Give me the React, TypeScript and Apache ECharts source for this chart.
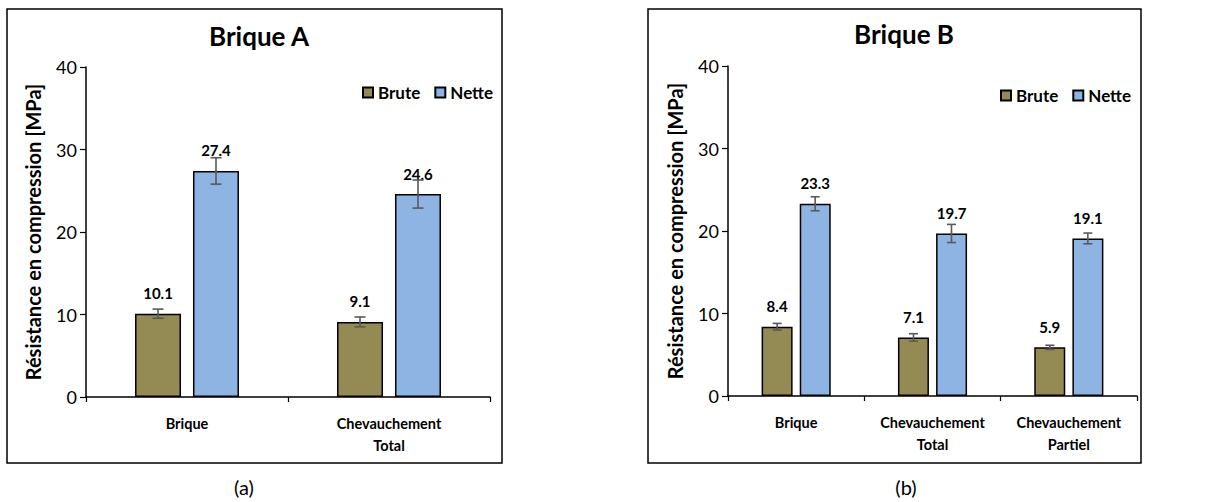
import React, { useEffect, useRef } from "react";
import * as echarts from "echarts";

const categoriesA = ["Brique", "Chevauchement\nTotal"];
const bruteA = [10.1, 9.1];
const netteA = [27.4, 24.6];
const errBruteA = [0.55, 0.6];
const errNetteA = [1.6, 1.7];

const categoriesB = ["Brique", "Chevauchement\nTotal", "Chevauchement\nPartiel"];
const bruteB = [8.4, 7.1, 5.9];
const netteB = [23.3, 19.7, 19.1];
const errBruteB = [0.4, 0.45, 0.25];
const errNetteB = [0.85, 1.1, 0.65];

const yTicks = { min: 0, max: 40, interval: 10 };
const titles = ["Brique A", "Brique B"];
const captions = ["(a)", "(b)"];
const yName = "Résistance en compression [MPa]";

const FONT = "Lato, 'Noto Sans', sans-serif";
const BROWN = "#948A54";
const BLUE = "#8DB4E2";

function errorSeries(name: string, axisIdx: number, vals: number[], errs: number[], offset: number, cap: number) {
  return {
    type: "custom",
    name,
    xAxisIndex: axisIdx,
    yAxisIndex: axisIdx,
    z: 5,
    encode: { x: 0, y: 1 },
    data: vals.map((v, i) => [i, v, errs[i]]),
    renderItem: (params: any, api: any) => {
      const i = api.value(0);
      const v = api.value(1);
      const e = api.value(2);
      const hi = api.coord([i, v + e]);
      const lo = api.coord([i, v - e]);
      const x = hi[0] + offset;
      const style = { stroke: "#595959", lineWidth: 1.6 };
      return {
        type: "group",
        children: [
          { type: "line", shape: { x1: x, y1: hi[1], x2: x, y2: lo[1] }, style },
          { type: "line", shape: { x1: x - cap / 2, y1: hi[1], x2: x + cap / 2, y2: hi[1] }, style },
          { type: "line", shape: { x1: x - cap / 2, y1: lo[1], x2: x + cap / 2, y2: lo[1] }, style },
        ],
      };
    },
  };
}

function barSeries(name: string, axisIdx: number, data: number[], color: string, width: number, gap: string) {
  return {
    type: "bar",
    name,
    xAxisIndex: axisIdx,
    yAxisIndex: axisIdx,
    data,
    barWidth: width,
    barGap: gap,
    itemStyle: { color, borderColor: "#000", borderWidth: 1.5 },
    label: {
      show: true,
      position: "top",
      distance: 13,
      color: "#000",
      fontWeight: "bold",
      fontSize: 15,
      fontFamily: FONT,
      formatter: (p: any) => p.value.toFixed(1),
    },
  };
}

function xAxis(idx: number, cats: string[]) {
  return {
    type: "category",
    gridIndex: idx,
    data: cats,
    axisLine: { lineStyle: { color: "#000", width: 1.5 } },
    axisTick: { show: true, length: 5, lineStyle: { color: "#000", width: 1.2 } },
    axisLabel: {
      interval: 0,
      hideOverlap: false,
      color: "#000",
      fontWeight: "bold",
      fontSize: 14.5,
      fontFamily: FONT,
      lineHeight: 22,
      margin: 15,
    },
  };
}

function yAxis(idx: number) {
  return {
    type: "value",
    gridIndex: idx,
    min: yTicks.min,
    max: yTicks.max,
    interval: yTicks.interval,
    name: yName,
    nameLocation: "middle",
    nameGap: 43,
    nameRotate: 90,
    nameTextStyle: { color: "#000", fontWeight: "bold", fontSize: 20, fontFamily: FONT },
    axisLine: { show: true, lineStyle: { color: "#000", width: 1.5 } },
    axisTick: { show: true, length: 6, lineStyle: { color: "#000", width: 1.2 } },
    splitLine: { show: false },
    axisLabel: { color: "#000", fontSize: 18, fontFamily: FONT, margin: 9 },
  };
}

export default function App() {
  const ref = useRef<HTMLDivElement>(null);
  useEffect(() => {
    if (!ref.current) return;
    const chart = echarts.init(ref.current, null, { renderer: "svg" });
    const legendBase = {
      data: ["Brute", "Nette"],
      icon: "rect",
      itemWidth: 10,
      itemHeight: 10,
      itemGap: 14,
      padding: 0,
      textStyle: { color: "#000", fontWeight: "bold", fontSize: 17, fontFamily: FONT },
    };
    const titleStyle = { fontSize: 26, fontWeight: "bold", color: "#000", fontFamily: FONT };
    chart.setOption({
      animation: false,
      backgroundColor: "#fff",
      title: [
        { text: titles[0], left: 254, top: 18, textAlign: "center", textStyle: titleStyle },
        { text: titles[1], left: 899, top: 16, textAlign: "center", textStyle: titleStyle },
      ],
      legend: [
        { ...legendBase, left: 362, top: 84 },
        { ...legendBase, left: 1000, top: 87 },
      ],
      grid: [
        { left: 86, top: 67, width: 404, height: 330 },
        { left: 728, top: 66, width: 409, height: 330 },
      ],
      xAxis: [xAxis(0, categoriesA), xAxis(1, categoriesB)],
      yAxis: [yAxis(0), yAxis(1)],
      series: [
        barSeries("Brute", 0, bruteA, BROWN, 46, "26%"),
        barSeries("Nette", 0, netteA, BLUE, 46, "26%"),
        barSeries("Brute", 1, bruteB, BROWN, 31, "23%"),
        barSeries("Nette", 1, netteB, BLUE, 31, "23%"),
        errorSeries("errBruteA", 0, bruteA, errBruteA, -29, 11),
        errorSeries("errNetteA", 0, netteA, errNetteA, 29, 11),
        errorSeries("errBruteB", 1, bruteB, errBruteB, -19, 9),
        errorSeries("errNetteB", 1, netteB, errNetteB, 19, 9),
      ],
      graphic: [
        {
          type: "rect",
          shape: { x: 7, y: 9, width: 495, height: 454 },
          style: { fill: "none", stroke: "#000", lineWidth: 1.5 },
          z: -1,
        },
        {
          type: "rect",
          shape: { x: 648, y: 9, width: 493, height: 454 },
          style: { fill: "none", stroke: "#000", lineWidth: 1.5 },
          z: -1,
        },
        {
          type: "text",
          x: 244,
          y: 487,
          style: { text: captions[0], fontSize: 20, fontFamily: FONT, fill: "#000", textAlign: "center", textVerticalAlign: "middle" },
        },
        {
          type: "text",
          x: 906,
          y: 487,
          style: { text: captions[1], fontSize: 20, fontFamily: FONT, fill: "#000", textAlign: "center", textVerticalAlign: "middle" },
        },
      ],
    });
    return () => chart.dispose();
  }, []);
  return (
    <div
      ref={ref}
      style={{ position: "fixed", left: 0, top: 0, width: 1222, height: 502, background: "#fff" }}
    />
  );
}
